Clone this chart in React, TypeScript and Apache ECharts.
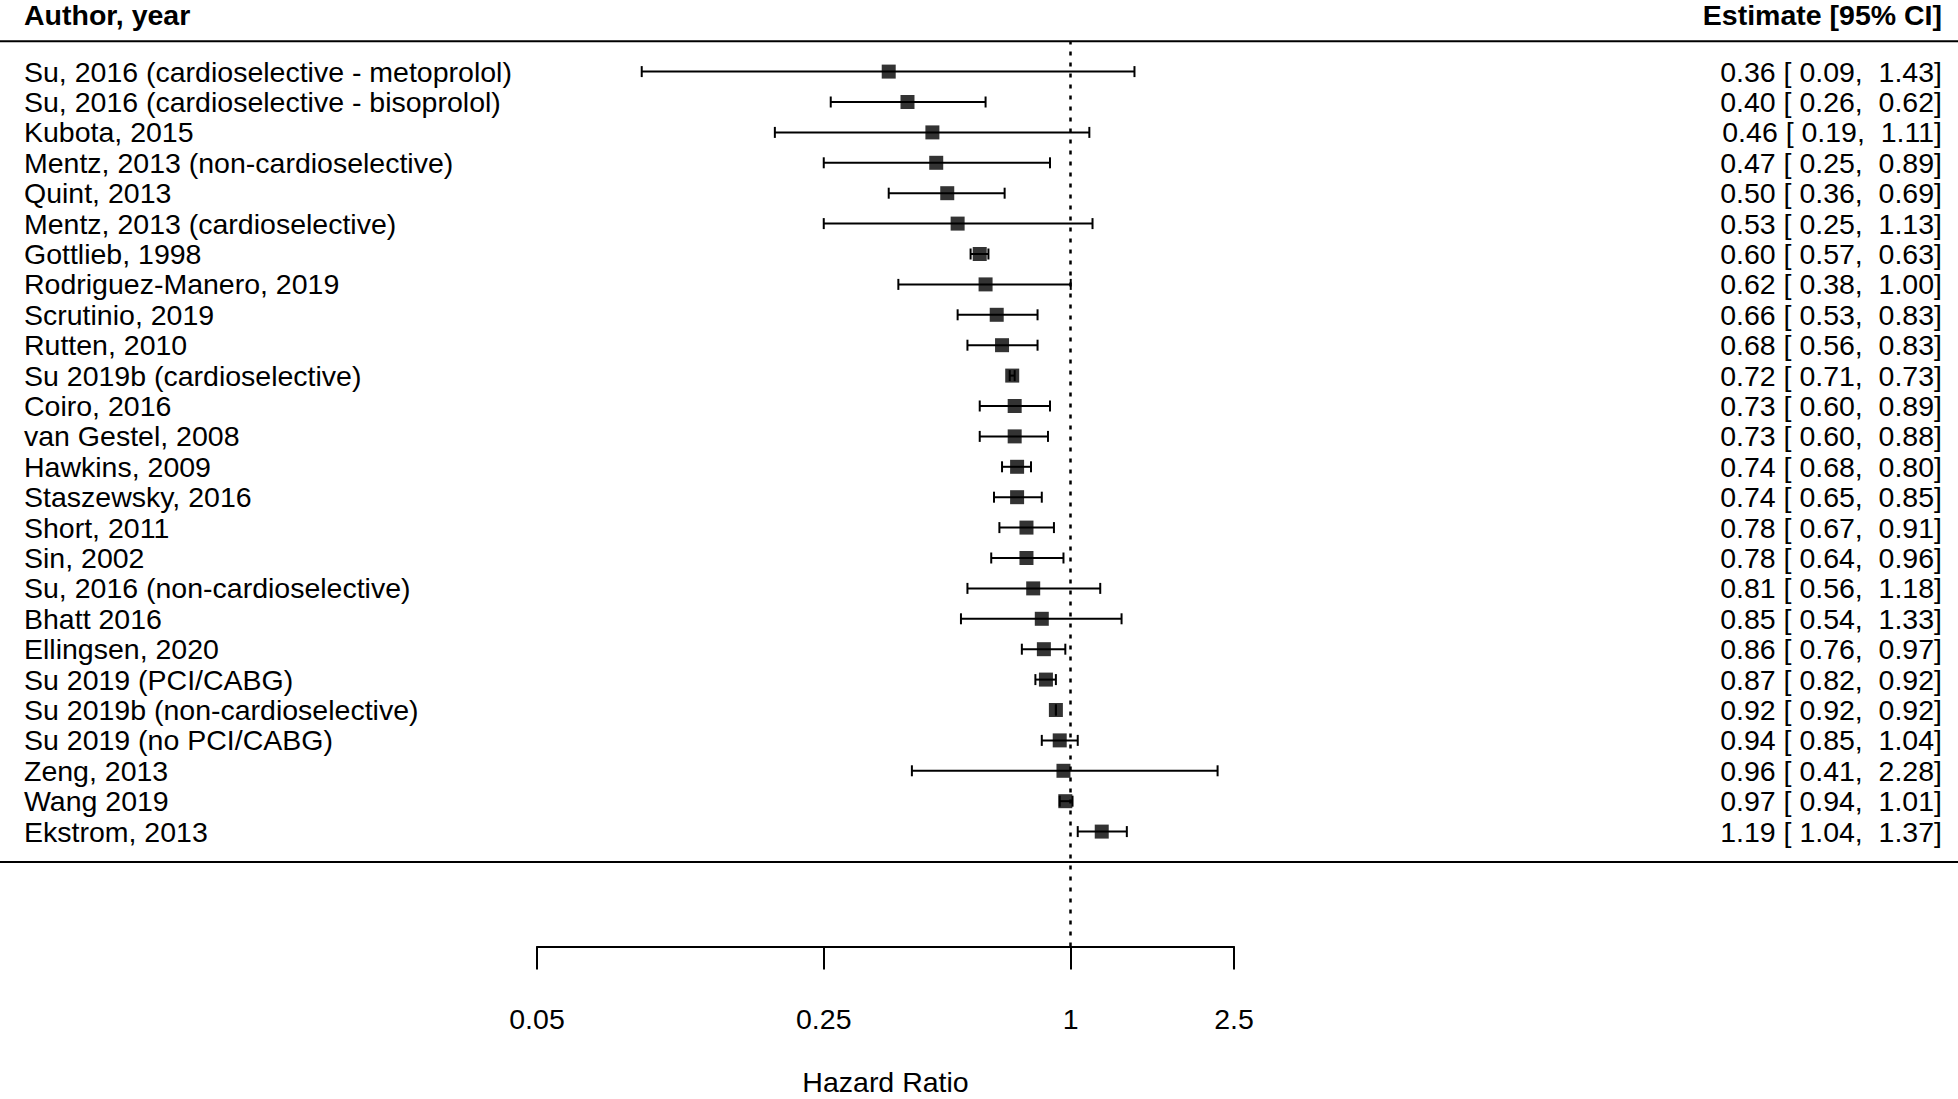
import React, { useEffect, useRef } from "react";
import * as echarts from "echarts";

const authors = [
  "Su, 2016 (cardioselective - metoprolol)",
  "Su, 2016 (cardioselective - bisoprolol)",
  "Kubota, 2015",
  "Mentz, 2013 (non-cardioselective)",
  "Quint, 2013",
  "Mentz, 2013 (cardioselective)",
  "Gottlieb, 1998",
  "Rodriguez-Manero, 2019",
  "Scrutinio, 2019",
  "Rutten, 2010",
  "Su 2019b (cardioselective)",
  "Coiro, 2016",
  "van Gestel, 2008",
  "Hawkins, 2009",
  "Staszewsky, 2016",
  "Short, 2011",
  "Sin, 2002",
  "Su, 2016 (non-cardioselective)",
  "Bhatt 2016",
  "Ellingsen, 2020",
  "Su 2019 (PCI/CABG)",
  "Su 2019b (non-cardioselective)",
  "Su 2019 (no PCI/CABG)",
  "Zeng, 2013",
  "Wang 2019",
  "Ekstrom, 2013",
];
const estimates = [0.36, 0.40, 0.46, 0.47, 0.50, 0.53, 0.60, 0.62, 0.66, 0.68, 0.72, 0.73, 0.73, 0.74, 0.74, 0.78, 0.78, 0.81, 0.85, 0.86, 0.87, 0.92, 0.94, 0.96, 0.97, 1.19];
const lowers = [0.09, 0.26, 0.19, 0.25, 0.36, 0.25, 0.57, 0.38, 0.53, 0.56, 0.71, 0.60, 0.60, 0.68, 0.65, 0.67, 0.64, 0.56, 0.54, 0.76, 0.82, 0.92, 0.85, 0.41, 0.94, 1.04];
const uppers = [1.43, 0.62, 1.11, 0.89, 0.69, 1.13, 0.63, 1.00, 0.83, 0.83, 0.73, 0.89, 0.88, 0.80, 0.85, 0.91, 0.96, 1.18, 1.33, 0.97, 0.92, 0.92, 1.04, 2.28, 1.01, 1.37];
const tickValues = [0.05, 0.25, 1, 2.5];
const tickLabels = ["0.05", "0.25", "1", "2.5"];
const headerLeft = "Author, year";
const headerRight = "Estimate [95% CI]";
const xAxisTitle = "Hazard Ratio";

const FONT = "'Liberation Sans', Arial, Helvetica, sans-serif";
const FS = 28.5;
const W = 1958;
const H = 1099;

const fmt = (v: number) => v.toFixed(2);
const pad = (s: string, n: number) => s.padStart(n, " ");

export default function App() {
  const ref = useRef<HTMLDivElement>(null);

  useEffect(() => {
    if (!ref.current) return;
    const chart = echarts.init(ref.current, null, { renderer: "svg" });
    const k = authors.length;
    const rowY = authors.map((_, i) => k - i); // top row = k, bottom row = 1
    const logTicks = tickValues.map((v) => Math.log(v));
    const labelFor = (val: number) => {
      let best = 0;
      for (let i = 0; i < logTicks.length; i++) {
        if (Math.abs(logTicks[i] - val) < Math.abs(logTicks[best] - val)) best = i;
      }
      return tickLabels[best];
    };
    const rowLabel = (val: number, arr: string[]) => {
      const idx = k - Math.round(val);
      return arr[idx] ?? "";
    };
    const estStrings = estimates.map(
      (e, i) => `${fmt(e)} [${pad(fmt(lowers[i]), 5)}, ${pad(fmt(uppers[i]), 5)}]`
    );

    const yMin = -2.78;
    const yMax = k + 1;

    const option: any = {
      animation: false,
      backgroundColor: "#ffffff",
      textStyle: { fontFamily: FONT },
      grid: {
        left: 537,
        right: W - 1234,
        top: 41.2,
        bottom: H - 946.5,
        containLabel: false,
        outerBoundsMode: "none",
      },
      xAxis: {
        type: "value",
        min: Math.log(tickValues[0]),
        max: Math.log(tickValues[tickValues.length - 1]),
        splitLine: { show: false },
        axisLine: { show: true, onZero: false, lineStyle: { color: "#000", width: 2 } },
        axisTick: {
          show: true,
          inside: false,
          length: 23,
          customValues: logTicks,
          lineStyle: { color: "#000", width: 2 },
        },
        axisLabel: {
          show: true,
          customValues: logTicks,
          formatter: (v: number) => labelFor(v),
          margin: 72,
          verticalAlign: "middle",
          fontSize: FS,
          color: "#000",
          fontFamily: FONT,
          showMinLabel: true,
          showMaxLabel: true,
        },
        name: xAxisTitle,
        nameLocation: "middle",
        nameGap: 135,
        nameTextStyle: { fontSize: FS, color: "#000", fontFamily: FONT, verticalAlign: "middle" },
      },
      yAxis: [
        {
          type: "value",
          min: yMin,
          max: yMax,
          position: "left",
          splitLine: { show: false },
          axisLine: { show: false },
          axisTick: { show: false },
          axisLabel: {
            customValues: rowY,
            formatter: (v: number) => rowLabel(v, authors),
            align: "left",
            margin: 513,
            fontSize: FS,
            color: "#000",
            fontFamily: FONT,
          },
        },
        {
          type: "value",
          min: yMin,
          max: yMax,
          position: "right",
          splitLine: { show: false },
          axisLine: { show: false },
          axisTick: { show: false },
          axisLabel: {
            customValues: rowY,
            formatter: (v: number) => rowLabel(v, estStrings),
            align: "right",
            margin: 708,
            fontSize: FS,
            color: "#000",
            fontFamily: FONT,
          },
        },
      ],
      series: [
        {
          type: "custom",
          name: "ci",
          z: 2,
          data: estimates.map((_, i) => [Math.log(lowers[i]), Math.log(uppers[i]), rowY[i]]),
          renderItem: (params: any, api: any) => {
            const p1 = api.coord([api.value(0), api.value(2)]);
            const p2 = api.coord([api.value(1), api.value(2)]);
            const th = 5.5;
            const style = { stroke: "#000", lineWidth: 2, fill: null };
            return {
              type: "group",
              children: [
                { type: "line", shape: { x1: p1[0], y1: p1[1], x2: p2[0], y2: p2[1] }, style },
                { type: "line", shape: { x1: p1[0], y1: p1[1] - th, x2: p1[0], y2: p1[1] + th }, style },
                { type: "line", shape: { x1: p2[0], y1: p2[1] - th, x2: p2[0], y2: p2[1] + th }, style },
              ],
            };
          },
          markLine: {
            silent: true,
            symbol: ["none", "none"],
            label: { show: false },
            lineStyle: { color: "#000", width: 2.5, type: [4, 7] },
            data: [{ xAxis: 0 }],
          },
        },
        {
          type: "scatter",
          name: "estimate",
          z: 3,
          symbol: "rect",
          symbolSize: 14,
          itemStyle: { color: "#000" },
          data: estimates.map((e, i) => [Math.log(e), rowY[i]]),
        },
      ],
    };
    chart.setOption(option);

    const topSep = chart.convertToPixel({ gridIndex: 0 } as any, [0, k + 1]) as number[];
    const botSep = chart.convertToPixel({ gridIndex: 0 } as any, [0, 0]) as number[];
    const head = chart.convertToPixel({ gridIndex: 0 } as any, [0, k + 1.9]) as number[];
    const leftLabelX = 537 - 513;
    const rightLabelX = 1234 + 708;
    chart.setOption({
      graphic: [
        { type: "line", shape: { x1: 0, y1: topSep[1], x2: W, y2: topSep[1] }, style: { stroke: "#000", lineWidth: 2 } },
        { type: "line", shape: { x1: 0, y1: botSep[1], x2: W, y2: botSep[1] }, style: { stroke: "#000", lineWidth: 2 } },
        {
          type: "text",
          x: leftLabelX,
          y: Math.max(head[1], 15),
          style: { text: headerLeft, font: `bold ${FS}px ${FONT}`, fill: "#000", textAlign: "left", textVerticalAlign: "middle" },
        },
        {
          type: "text",
          x: rightLabelX,
          y: Math.max(head[1], 15),
          style: { text: headerRight, font: `bold ${FS}px ${FONT}`, fill: "#000", textAlign: "right", textVerticalAlign: "middle" },
        },
      ],
    });

    return () => chart.dispose();
  }, []);

  return (
    <div
      ref={ref}
      style={{ position: "fixed", left: 0, top: 0, width: W, height: H, background: "#fff" }}
    />
  );
}
